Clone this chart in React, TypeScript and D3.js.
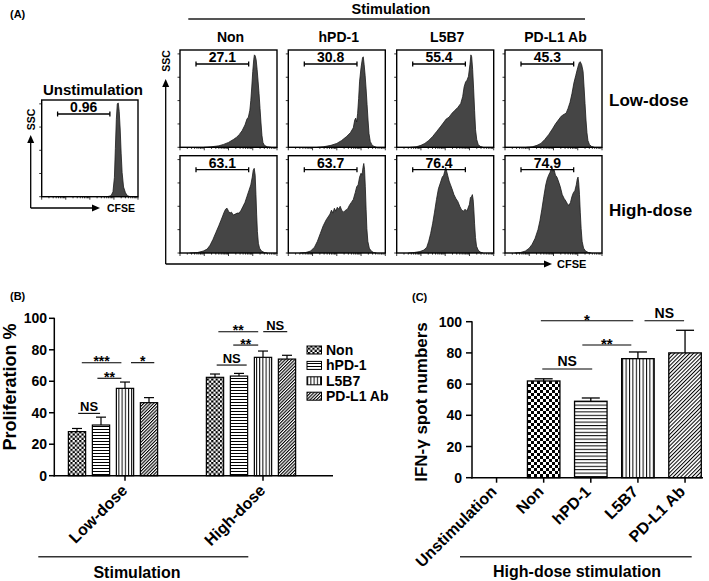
import React from 'react';
import * as d3 from 'd3';

const FONT = "Arial, 'Liberation Sans', Helvetica, sans-serif";

// ---------- Panel A data ----------
const histColumns = ['Non', 'hPD-1', 'L5B7', 'PD-L1 Ab'];
const histRows = ['Low-dose', 'High-dose'];
const gateLow = ['27.1', '30.8', '55.4', '45.3'];
const gateHigh = ['63.1', '63.7', '76.4', '74.9'];
const gateUnstim = '0.96';

// [CFSE position %, relative count %]
const histUnstim: [number, number][] = [[68,0],[72,1],[74,5],[75.5,20],[76.5,50],[77.5,80],[78.5,96],[79.5,97],[80.5,88],[81.5,70],[82.5,45],[83.5,25],[85,10],[87,4],[89,1],[92,0]];
const histNonLow: [number, number][] = [[25,0],[32,0.5],[40,1.5],[45,3],[50,5],[55,8],[58,10],[61,13],[64,17],[67,23],[69,29],[70.5,31],[72,38],[73,48],[74,62],[75,78],[76,90],[76.7,95],[77.5,94],[78.5,90],[79.5,80],[80.5,68],[81.5,55],[82.5,40],[83.5,25],[84.5,12],[85.5,5],[87,2],[90,0.5],[94,0]];
const histHpdLow: [number, number][] = [[30,0],[36,0.5],[44,2],[50,4],[55,7],[60,11],[64,15],[67,20],[68.5,28],[69.5,30],[70.5,26],[71.5,35],[72.5,50],[73.5,68],[75,82],[76.5,92],[77.3,93],[78.2,85],[79.2,74],[80.2,60],[81.2,44],[82.2,28],[83.2,14],[84.5,6],[86,3],[88,1],[91,0]];
const histL5Low: [number, number][] = [[14,0],[20,0.5],[25,2],[29,4],[33,7],[37,11],[41,16],[45,21],[48,25],[51,29],[54,31],[57,35],[60,38],[63,41],[66,45],[68,52],[69.5,62],[71,67],[72.5,69],[74,73],[75.5,85],[76.5,95],[77.3,93],[78.3,80],[79.3,60],[80.3,38],[81.3,18],[82.5,8],[84,3],[86,1],[89,0]];
const histAbLow: [number, number][] = [[22,0],[28,0.5],[33,2],[37,4],[41,8],[45,13],[49,19],[52,24],[55,28],[58,32],[61,34],[63,35],[65,40],[67,46],[69,55],[71,66],[73,74],[75,82],[76.5,87],[77.5,88],[79,85],[80.5,78],[81.5,62],[82.5,45],[83.5,28],[84.5,15],[85.5,7],[87,3],[89,1],[92,0]];
const histNonHigh: [number, number][] = [[10,0],[18,0.5],[24,2],[28,4],[31,8],[34,14],[37,21],[40,28],[42,33],[44,38],[45.5,42],[47,45],[48.5,46],[50,43],[51.5,41],[53,42],[55,39],[57,40],[59,41],[61,41],[63,44],[65,48],[67,52],[69,58],[71,64],[73,70],[74.5,78],[75.5,85],[76.5,87],[77.5,80],[78.3,60],[79,40],[79.8,22],[80.8,10],[82,5],[84,2],[87,0.5],[90,0]];
const histHpdHigh: [number, number][] = [[12,0],[18,0.5],[23,2],[27,6],[30,12],[33,20],[36,28],[39,34],[41,37],[43,40],[44.5,44],[46,41],[47.5,46],[49,43],[50.5,47],[52,45],[53.5,48],[55,44],[57,42],[59,44],[61,45],[63,49],[65,52],[67,55],[69,62],[70.5,68],[72,70],[73.5,78],[75,82],[76,80],[77,88],[77.8,92],[78.6,86],[79.4,68],[80.2,45],[81,25],[82,12],[83.5,5],[85.5,2],[88,0.5],[91,0]];
const histL5High: [number, number][] = [[12,0],[18,0.5],[24,1.5],[28,3],[31,6],[33,12],[35,20],[37,30],[39,42],[41,55],[43,66],[45,72],[47,78],[48.5,80],[49.5,84],[50.5,88],[51.5,84],[52.5,80],[54,74],[55.5,70],[57,66],[59,60],[61,56],[63,53],[65,48],[67,44],[69,43],[70.5,45],[72,43],[73.5,46],[75,50],[76,57],[77.2,58],[78,60],[78.8,55],[79.5,45],[80.3,30],[81.2,16],[82.3,7],[84,3],[86,1],[89,0]];
const histAbHigh: [number, number][] = [[10,0],[16,0.5],[21,2],[25,5],[28,9],[31,15],[34,24],[36,33],[38,45],[40,58],[42,70],[43.5,76],[45,80],[46.5,83],[47.5,86],[48.5,88],[49.5,84],[50.5,86],[52,80],[53.5,78],[55,74],[57,68],[59,60],[61,56],[63,53],[64.5,50],[66,49],[67.5,52],[69,58],[70.5,62],[72,64],[73.5,70],[74.5,76],[75.3,78],[76,72],[76.8,60],[77.6,42],[78.5,25],[79.5,12],[81,5],[83,2],[86,0.5],[89,0]];

// ---------- Panel B data ----------
const groupsB = ['Low-dose', 'High-dose'];
const seriesB = ['Non', 'hPD-1', 'L5B7', 'PD-L1 Ab'];
const lowDoseMean = [28, 32.2, 55.5, 46.4];
const lowDoseErr = [2, 5, 4, 3.2];
const highDoseMean = [62.5, 63.3, 75.2, 74.1];
const highDoseErr = [2.1, 1.7, 4, 2.4];
const yTicksB = [0, 20, 40, 60, 80, 100];
// significance: group, from/to (bar index), height, label
const sigB = [
  { g: 0, a: 0.05, b: 0.96, y: 39.6, t: 'NS' },
  { g: 0, a: 0.2, b: 1.85, y: 71.8, t: '***' },
  { g: 0, a: 0.85, b: 1.85, y: 61.9, t: '**' },
  { g: 0, a: 2.25, b: 3.22, y: 71.8, t: '*' },
  { g: 1, a: 0.07, b: 1.32, y: 70.3, t: 'NS' },
  { g: 1, a: 0.14, b: 1.8, y: 91.5, t: '**' },
  { g: 1, a: 0.76, b: 1.8, y: 83, t: '**' },
  { g: 1, a: 2.01, b: 3.01, y: 91.5, t: 'NS' },
];

// ---------- Panel C data ----------
const catsC = ['Unstimulation', 'Non', 'hPD-1', 'L5B7', 'PD-L1 Ab'];
const meanC = [0, 62, 49, 76.3, 80];
const errC = [0, 1.4, 2.1, 4.3, 14.5];
const yTicksC = [0, 20, 40, 60, 80, 100];
const sigC = [
  { a: 0.94, b: 2.9, y: 100.6, t: '*' },
  { a: 3.14, b: 3.98, y: 100.6, t: 'NS' },
  { a: 1.82, b: 2.86, y: 85.1, t: '**' },
  { a: 0.97, b: 2.03, y: 69.7, t: 'NS' },
];

const patB = ['chkB', 'hB', 'vB', 'dB'];
const patC = [null, 'chkC', 'hC', 'vC', 'dC'];

function Arrow({ x, y, dir }: { x: number; y: number; dir: 'up' | 'right' }) {
  const L = 8, hw = 3.5;
  const pts = dir === 'up'
    ? [[x, y], [x - hw, y + L], [x + hw, y + L]]
    : [[x, y], [x - L, y - hw], [x - L, y + hw]];
  return <polygon points={pts.map(p => p.join(',')).join(' ')} fill="#000" />;
}

function Hist({ x0, y0, w, h, data, label }: { x0: number; y0: number; w: number; h: number; data: [number, number][]; label: string }) {
  const xs = d3.scaleLinear().domain([0, 100]).range([x0, x0 + w]);
  const ys = d3.scaleLinear().domain([0, 100]).range([y0 + h, y0]);
  const area = d3.area<[number, number]>().x(d => xs(d[0])).y0(y0 + h).y1(d => ys(d[1]));
  const line = d3.line<[number, number]>().x(d => xs(d[0])).y(d => ys(d[1]));
  const bottomTicks: { p: number; major: boolean }[] = [];
  for (let dec = 0; dec < 4; dec++) {
    bottomTicks.push({ p: dec / 4, major: true });
    for (let k = 2; k <= 9; k++) bottomTicks.push({ p: (dec + Math.log10(k)) / 4, major: false });
  }
  bottomTicks.push({ p: 1, major: true });
  const leftTicks = [0, 0.24, 0.48, 0.72, 0.96];
  const gx0 = xs(16.5), gx1 = xs(70.8), gy = y0 + 14;
  return (
    <g>
      <path d={area(data) || ''} fill="#454545" />
      <path d={line(data) || ''} fill="none" stroke="#1a1a1a" strokeWidth={0.8} />
      <rect x={x0} y={y0} width={w} height={h} fill="none" stroke="#000" strokeWidth={1.4} />
      {bottomTicks.map((t, i) => (
        <line key={i} x1={x0 + t.p * w} x2={x0 + t.p * w} y1={y0 + h} y2={y0 + h + (t.major ? 3 : 1.6)} stroke="#000" strokeWidth={0.8} />
      ))}
      {leftTicks.map((t, i) => (
        <line key={'l' + i} x1={x0} x2={x0 - 2.5} y1={y0 + h - t * h} y2={y0 + h - t * h} stroke="#000" strokeWidth={0.8} />
      ))}
      <line x1={gx0} x2={gx1} y1={gy} y2={gy} stroke="#000" strokeWidth={1.3} />
      <line x1={gx0} x2={gx0} y1={gy - 2.5} y2={gy + 2.5} stroke="#000" strokeWidth={1.3} />
      <line x1={gx1} x2={gx1} y1={gy - 2.5} y2={gy + 2.5} stroke="#000" strokeWidth={1.3} />
      <text x={(gx0 + gx1) / 2} y={y0 + 12.3} textAnchor="middle" fontSize={14} fontWeight="bold">{label}</text>
    </g>
  );
}

export default function App() {
  const W = 709, H = 581;

  // ----- Panel A layout -----
  const colX = [180, 288.3, 396.7, 505];
  const rowY = [50, 155.7];
  const boxW = 97, boxH = 97.3;
  const hists = [
    [histNonLow, histHpdLow, histL5Low, histAbLow],
    [histNonHigh, histHpdHigh, histL5High, histAbHigh],
  ];
  const gates = [gateLow, gateHigh];

  // ----- Panel B scales -----
  const yB = d3.scaleLinear().domain([0, 100]).range([475.7, 318.3]);
  const gX = d3.scalePoint<string>().domain(groupsB).range([113, 251]);
  const sX = d3.scaleBand<string>().domain(seriesB).range([-48, 48]).paddingInner(0.28).paddingOuter(0.14);
  const bwB = sX.bandwidth();
  const meansB = [lowDoseMean, highDoseMean];
  const errsB = [lowDoseErr, highDoseErr];
  const barCenterB = (g: number, s: number) => (gX(groupsB[g]) as number) + (sX(seriesB[0]) as number) + bwB / 2 + s * sX.step();

  // ----- Panel C scales -----
  const yC = d3.scaleLinear().domain([0, 100]).range([477.7, 321.7]);
  const xC = d3.scaleBand<string>().domain(catsC).range([473, 708.6]).paddingInner(0.31).paddingOuter(0.155);
  const bwC = xC.bandwidth();
  const centerC = (i: number) => (xC(catsC[0]) as number) + bwC / 2 + i * xC.step();

  return (
    <svg width={W} height={H} style={{ position: 'absolute', left: 0, top: 0, background: '#fff' }} fontFamily={FONT}>
      <defs>
        <pattern id="chkB" width={4.4} height={4.4} patternUnits="userSpaceOnUse">
          <rect width={4.4} height={4.4} fill="#fff" />
          <rect width={2.2} height={2.2} fill="#000" />
          <rect x={2.2} y={2.2} width={2.2} height={2.2} fill="#000" />
        </pattern>
        <pattern id="chkC" width={6} height={6} patternUnits="userSpaceOnUse">
          <rect width={6} height={6} fill="#fff" />
          <rect width={3} height={3} fill="#000" />
          <rect x={3} y={3} width={3} height={3} fill="#000" />
        </pattern>
        <pattern id="hB" width={4} height={3} patternUnits="userSpaceOnUse">
          <rect width={4} height={3} fill="#fff" />
          <rect width={4} height={1} fill="#000" />
        </pattern>
        <pattern id="hC" width={4} height={3.4} patternUnits="userSpaceOnUse">
          <rect width={4} height={3.4} fill="#fff" />
          <rect width={4} height={1} fill="#000" />
        </pattern>
        <pattern id="vB" width={3.2} height={4} patternUnits="userSpaceOnUse">
          <rect width={3.2} height={4} fill="#fff" />
          <rect width={1} height={4} fill="#000" />
        </pattern>
        <pattern id="vC" width={3.4} height={4} patternUnits="userSpaceOnUse">
          <rect width={3.4} height={4} fill="#fff" />
          <rect width={1} height={4} fill="#000" />
        </pattern>
        <pattern id="dB" width={2.3} height={2.3} patternUnits="userSpaceOnUse" patternTransform="rotate(45)">
          <rect width={2.3} height={2.3} fill="#fff" />
          <rect width={1.1} height={2.3} fill="#000" />
        </pattern>
        <pattern id="dC" width={2.7} height={2.7} patternUnits="userSpaceOnUse" patternTransform="rotate(45)">
          <rect width={2.7} height={2.7} fill="#fff" />
          <rect width={1} height={2.7} fill="#000" />
        </pattern>
      </defs>
      <rect width={W} height={H} fill="#fff" />

      {/* ================= Panel A ================= */}
      <text x={10} y={18} fontSize={11} fontWeight="bold">(A)</text>
      <text x={391} y={13.5} textAnchor="middle" fontSize={14.5} fontWeight="bold">Stimulation</text>
      <line x1={188.3} x2={585} y1={19} y2={19} stroke="#555" strokeWidth={2} />
      {histColumns.map((c, i) => (
        <text key={c} x={colX[i] + boxW / 2 + 2} y={41.5} textAnchor="middle" fontSize={14} fontWeight="bold">{c}</text>
      ))}
      {histRows.map((r, ri) => (
        <text key={r} x={609} y={ri === 0 ? 106 : 216} fontSize={17} fontWeight="bold">{r}</text>
      ))}
      {hists.map((row, ri) => row.map((d, ci) => (
        <Hist key={ri + '-' + ci} x0={colX[ci]} y0={rowY[ri]} w={boxW} h={boxH} data={d} label={gates[ri][ci]} />
      )))}
      {/* bracket axes */}
      <line x1={165.7} x2={165.7} y1={264} y2={86} stroke="#000" strokeWidth={1.3} />
      <Arrow x={165.7} y={79} dir="up" />
      <line x1={165.7} x2={545} y1={264} y2={264} stroke="#000" strokeWidth={1.3} />
      <Arrow x={552} y={264} dir="right" />
      <text transform="translate(170,61) rotate(-90)" textAnchor="middle" fontSize={10.5} fontWeight="bold">SSC</text>
      <text x={557} y={268} fontSize={11} fontWeight="bold">CFSE</text>

      {/* Unstimulation */}
      <text x={93} y={95} textAnchor="middle" fontSize={15} fontWeight="bold">Unstimulation</text>
      <Hist x0={41.7} y0={100} w={96.3} h={96.7} data={histUnstim} label={gateUnstim} />
      <line x1={30.7} x2={30.7} y1={208} y2={142} stroke="#000" strokeWidth={1.3} />
      <Arrow x={30.7} y={135} dir="up" />
      <line x1={30.7} x2={93} y1={208} y2={208} stroke="#000" strokeWidth={1.3} />
      <Arrow x={100} y={208} dir="right" />
      <text transform="translate(35,119.5) rotate(-90)" textAnchor="middle" fontSize={10.5} fontWeight="bold">SSC</text>
      <text x={107} y={211.8} fontSize={10.5} fontWeight="bold">CFSE</text>

      {/* ================= Panel B ================= */}
      <text x={10} y={300} fontSize={11} fontWeight="bold">(B)</text>
      <text transform={`translate(15.5,387) rotate(-90)`} textAnchor="middle" fontSize={18} fontWeight="bold">Proliferation %</text>
      {yTicksB.map(t => (
        <g key={t}>
          <line x1={49} x2={54.3} y1={yB(t)} y2={yB(t)} stroke="#000" strokeWidth={1.5} />
          <text x={47} y={yB(t)} dy="0.36em" textAnchor="end" fontSize={14} fontWeight="bold">{t}</text>
        </g>
      ))}
      {groupsB.map((g, gi) => seriesB.map((s, si) => {
        const x = (gX(g) as number) + (sX(s) as number);
        const v = meansB[gi][si];
        const e = errsB[gi][si];
        const cx = x + bwB / 2;
        return (
          <g key={g + s}>
            <line x1={cx} x2={cx} y1={yB(v)} y2={yB(v + e)} stroke="#000" strokeWidth={1.2} />
            <line x1={cx - 5} x2={cx + 5} y1={yB(v + e)} y2={yB(v + e)} stroke="#000" strokeWidth={1.2} />
            <rect x={x} y={yB(v)} width={bwB} height={yB(0) - yB(v)} fill={`url(#${patB[si]})`} stroke="#000" strokeWidth={1.2} />
          </g>
        );
      }))}
      <line x1={54.3} x2={54.3} y1={yB(0) + 0.75} y2={yB(100) - 0.5} stroke="#000" strokeWidth={1.5} />
      <line x1={53.5} x2={333} y1={yB(0)} y2={yB(0)} stroke="#000" strokeWidth={1.5} />
      {groupsB.map(g => {
        const tx = (gX(g) as number) + 12;
        return (
          <g key={g}>
            <line x1={tx} x2={tx} y1={yB(0)} y2={yB(0) + 5} stroke="#000" strokeWidth={1.5} />
            <text transform={`translate(${tx + 3.4},${yB(0) + 15.7}) rotate(-45)`} textAnchor="end" fontSize={16} fontWeight="bold">{g}</text>
          </g>
        );
      })}
      {sigB.map((s, i) => {
        const x1 = barCenterB(s.g, s.a), x2 = barCenterB(s.g, s.b), y = yB(s.y);
        const ns = s.t === 'NS';
        return (
          <g key={i}>
            <line x1={x1} x2={x2} y1={y} y2={y} stroke="#000" strokeWidth={1.1} />
            <text x={(x1 + x2) / 2} y={ns ? y - 2 : y + 3.8} textAnchor="middle" fontSize={ns ? 13 : 14} fontWeight="bold">{s.t}</text>
          </g>
        );
      })}
      {seriesB.map((s, i) => (
        <g key={s}>
          <rect x={307} y={346 + i * 15.4} width={14.5} height={8} fill={`url(#${patB[i]})`} stroke="#000" strokeWidth={1} />
          <text x={326} y={350 + i * 15.4} dy="0.36em" fontSize={14} fontWeight="bold">{s}</text>
        </g>
      ))}
      <line x1={38.3} x2={248.3} y1={556.7} y2={556.7} stroke="#333" strokeWidth={1.4} />
      <text x={137} y={578} textAnchor="middle" fontSize={16} fontWeight="bold">Stimulation</text>

      {/* ================= Panel C ================= */}
      <text x={412} y={301} fontSize={11} fontWeight="bold">(C)</text>
      <text transform={`translate(427,402) rotate(-90)`} textAnchor="middle" fontSize={17} fontWeight="bold">IFN-γ spot numbers</text>
      {yTicksC.map(t => (
        <g key={t}>
          <line x1={466} x2={472} y1={yC(t)} y2={yC(t)} stroke="#000" strokeWidth={1.5} />
          <text x={462} y={yC(t)} dy="0.36em" textAnchor="end" fontSize={14} fontWeight="bold">{t}</text>
        </g>
      ))}
      {catsC.map((c, i) => {
        const x = xC(c) as number;
        const cx = x + bwC / 2;
        const v = meanC[i], e = errC[i];
        return (
          <g key={c}>
            <line x1={cx} x2={cx} y1={yC(0)} y2={yC(0) + 5} stroke="#000" strokeWidth={1.5} />
            {v > 0 && (
              <g>
                <line x1={cx} x2={cx} y1={yC(v)} y2={yC(v + e)} stroke="#000" strokeWidth={1.3} />
                <line x1={cx - 9} x2={cx + 9} y1={yC(v + e)} y2={yC(v + e)} stroke="#000" strokeWidth={1.3} />
                <rect x={x} y={yC(v)} width={bwC} height={yC(0) - yC(v)} fill={`url(#${patC[i]})`} stroke="#000" strokeWidth={1.3} />
              </g>
            )}
            <text transform={`translate(${cx + 1},${yC(0) + 15}) rotate(-45)`} textAnchor="end" fontSize={16} fontWeight="bold">{c}</text>
          </g>
        );
      })}
      <line x1={472} x2={472} y1={yC(0) + 0.75} y2={yC(100) - 0.5} stroke="#000" strokeWidth={1.5} />
      <line x1={471.3} x2={703} y1={yC(0)} y2={yC(0)} stroke="#000" strokeWidth={1.5} />
      {sigC.map((s, i) => {
        const x1 = centerC(s.a), x2 = centerC(s.b), y = yC(s.y);
        const ns = s.t === 'NS';
        return (
          <g key={i}>
            <line x1={x1} x2={x2} y1={y} y2={y} stroke="#000" strokeWidth={1.1} />
            <text x={(x1 + x2) / 2} y={ns ? y - 2.6 : y + 4} textAnchor="middle" fontSize={ns ? 14 : 15} fontWeight="bold">{s.t}</text>
          </g>
        );
      })}
      <line x1={460} x2={691.7} y1={556.7} y2={556.7} stroke="#333" strokeWidth={1.4} />
      <text x={577} y={577} textAnchor="middle" fontSize={16} fontWeight="bold">High-dose stimulation</text>
    </svg>
  );
}
